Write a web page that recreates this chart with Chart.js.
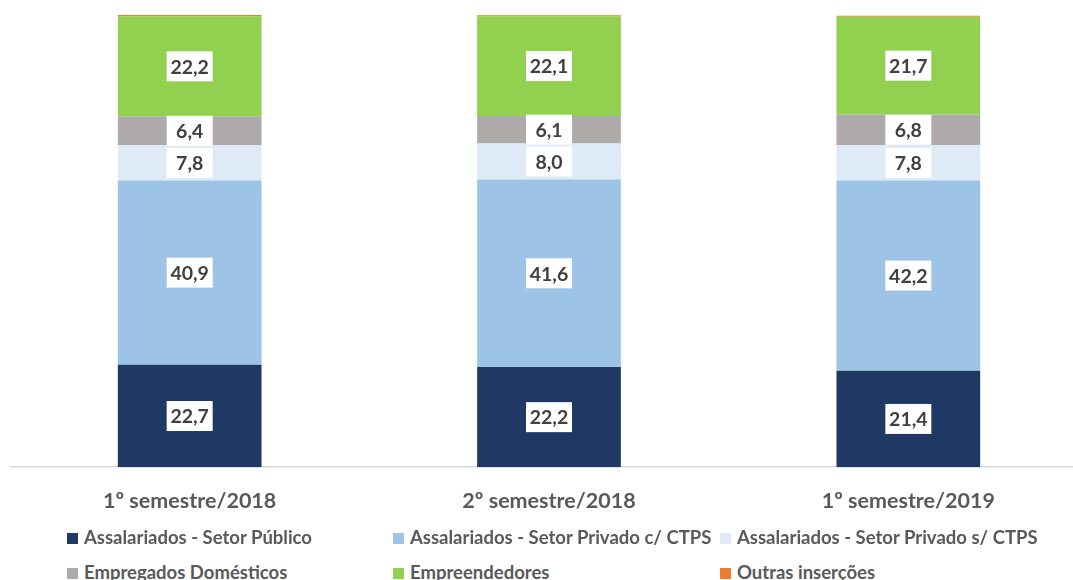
<!DOCTYPE html>
<html>
<head>
<meta charset="utf-8">
<script src="https://cdn.jsdelivr.net/npm/chart.js@4"></script>
<style>
  body { margin: 0; background: #fff; }
  #wrap { position: relative; width: 1073px; height: 580px; overflow: hidden; }
  #box { position: absolute; left: 10px; top: 0; width: 1078px; height: 527px; }
  #legend { position: absolute; left: 0; top: 0; width: 1073px; font-family: Lato, sans-serif; font-weight: bold; font-size: 18.5px; color: #595959; }
  .item { position: absolute; white-space: nowrap; }
  .item span.sq { display: inline-block; width: 11px; height: 11px; margin-right: 6px; }
</style>
</head>
<body>
<div id="wrap">
  <div id="box"><canvas id="chart"></canvas></div>
  <div id="legend"></div>
</div>
<script>
// periods
const periods = ['1º semestre/2018', '2º semestre/2018', '1º semestre/2019'];

const publico = [22.7, 22.2, 21.4];
const privadoCom = [40.9, 41.6, 42.2];
const privadoSem = [7.8, 8.0, 7.8];
const domesticos = [6.4, 6.1, 6.8];
const empreendedores = [22.2, 22.1, 21.7];
const outras = [0.3, 0.2, 0.2];

const seriesNames = [
  'Assalariados - Setor Público',
  'Assalariados - Setor Privado c/ CTPS',
  'Assalariados - Setor Privado s/ CTPS',
  'Empregados Domésticos',
  'Empreendedores',
  'Outras inserções'
];
const colors = ['#203864', '#9DC3E6', '#DEEBF7', '#AEAAAA', '#92D050', '#ED7D31'];
const allSeries = [publico, privadoCom, privadoSem, domesticos, empreendedores, outras];

// white boxes with the value in the middle of each segment
const boxLabels = {
  id: 'boxLabels',
  afterDatasetsDraw(chart) {
    const ctx = chart.ctx;
    ctx.save();
    ctx.font = 'bold 19.5px Lato, sans-serif';
    ctx.textAlign = 'center';
    ctx.textBaseline = 'middle';
    chart.data.datasets.forEach((ds, i) => {
      if (i === 5) return;
      chart.getDatasetMeta(i).data.forEach((bar, j) => {
        const txt = ds.data[j].toFixed(1).replace('.', ',');
        const y = (bar.y + bar.base) / 2;
        ctx.fillStyle = '#fff';
        ctx.fillRect(bar.x - 23, y - 15, 46, 30);
        ctx.fillStyle = '#404040';
        ctx.fillText(txt, bar.x, y + 1);
      });
    });
    ctx.restore();
  }
};

const ctx = document.getElementById('chart').getContext('2d');
const chart = new Chart(ctx, {
  type: 'bar',
  data: {
    labels: periods,
    datasets: allSeries.map((d, i) => ({
      label: seriesNames[i],
      data: d,
      backgroundColor: colors[i],
      borderWidth: 0,
      barPercentage: 0.4,
      categoryPercentage: 1
    }))
  },
  options: {
    responsive: true,
    maintainAspectRatio: false,
    animation: false,
    layout: { padding: { top: 14 } },
    plugins: { legend: { display: false }, tooltip: { enabled: false } },
    scales: {
      x: {
        stacked: true,
        grid: { display: false },
        border: { color: '#D9D9D9', width: 1.5 },
        ticks: { color: '#595959', font: { family: 'Lato', weight: 'bold', size: 21.5 }, padding: 13 }
      },
      y: {
        stacked: true,
        display: false,
        min: 0,
        max: 100.5
      }
    }
  },
  plugins: [boxLabels]
});

// legend laid out in three columns, like the original
const legend = document.getElementById('legend');
const cols = [67, 393, 720];
const rows = [526, 561];
seriesNames.forEach((name, i) => {
  const el = document.createElement('div');
  el.className = 'item';
  el.style.left = cols[i % 3] + 'px';
  el.style.top = rows[Math.floor(i / 3)] + 'px';
  el.innerHTML = '<span class="sq" style="background:' + colors[i] + '"></span>' + name;
  legend.appendChild(el);
});
</script>
</body>
</html>
